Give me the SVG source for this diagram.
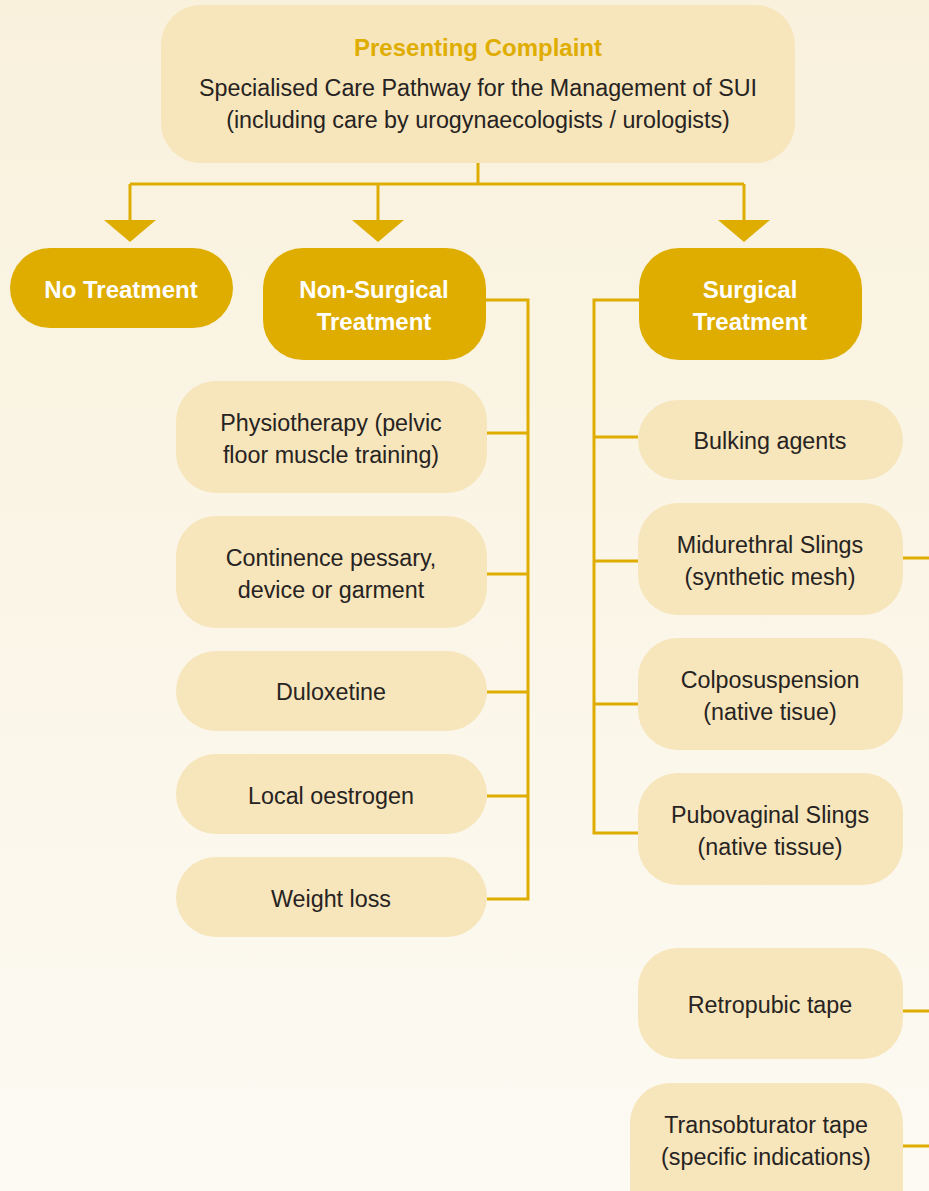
<svg xmlns="http://www.w3.org/2000/svg" width="929" height="1191" viewBox="0 0 929 1191">
  <defs>
    <linearGradient id="bg" x1="0" y1="0" x2="0" y2="1">
      <stop offset="0" stop-color="#f9f1dc"/>
      <stop offset="1" stop-color="#fcfaf3"/>
    </linearGradient>
    <style>
      .light { fill: #f7e5bb; }
      .dark { fill: #dfad00; }
      .t { font-family: "Liberation Sans", Arial, sans-serif; font-size: 23.3px; fill: #262322; text-anchor: middle; }
      .tb { font-family: "Liberation Sans", Arial, sans-serif; font-size: 24px; font-weight: bold; fill: #ffffff; text-anchor: middle; }
      .title { font-family: "Liberation Sans", Arial, sans-serif; font-size: 24px; font-weight: bold; fill: #dfad00; text-anchor: middle; }
      .ln { fill: none; stroke: #dfad00; stroke-width: 3; }
      .arrow { fill: #dfad00; }
    </style>
  </defs>
  <rect x="0" y="0" width="929" height="1191" fill="url(#bg)"/>

  <g id="connectors">
    <path class="ln" d="M478,163 V184 M130,184 H744 M130,184 V221 M378,184 V221 M744,184 V221"/>
    <polygon class="arrow" points="104,220 156,220 130,242"/>
    <polygon class="arrow" points="352,220 404,220 378,242"/>
    <polygon class="arrow" points="718,220 770,220 744,242"/>
    <path class="ln" d="M486,300 H528 V899 H487 M487,433 H528 M487,574 H528 M487,692 H528 M487,796 H528"/>
    <path class="ln" d="M639,300 H594 V833 H638 M594,437 H638 M594,561 H638 M594,704 H638"/>
    <path class="ln" d="M903,558 H929 M903,1011 H929 M903,1146 H929"/>
  </g>

  <g id="presenting-complaint">
    <rect class="light" x="161" y="5" width="634" height="158" rx="40"/>
    <text class="title" x="478" y="56">Presenting Complaint</text>
    <text class="t" x="478" y="96">Specialised Care Pathway for the Management of SUI</text>
    <text class="t" x="478" y="128">(including care by urogynaecologists / urologists)</text>
  </g>

  <g id="no-treatment">
    <rect class="dark" x="10" y="248" width="223" height="80" rx="40"/>
    <text class="tb" x="121" y="298">No Treatment</text>
  </g>

  <g id="non-surgical">
    <rect class="dark" x="263" y="248" width="223" height="112" rx="40"/>
    <text class="tb" x="374" y="298">Non-Surgical</text>
    <text class="tb" x="374" y="330">Treatment</text>
  </g>

  <g id="surgical">
    <rect class="dark" x="639" y="248" width="223" height="112" rx="40"/>
    <text class="tb" x="750" y="298">Surgical</text>
    <text class="tb" x="750" y="330">Treatment</text>
  </g>

  <g id="physiotherapy">
    <rect class="light" x="176" y="381" width="311" height="112" rx="40"/>
    <text class="t" x="331" y="431">Physiotherapy (pelvic</text>
    <text class="t" x="331" y="463">floor muscle training)</text>
  </g>

  <g id="continence">
    <rect class="light" x="176" y="516" width="311" height="112" rx="40"/>
    <text class="t" x="331" y="566">Continence pessary,</text>
    <text class="t" x="331" y="598">device or garment</text>
  </g>

  <g id="duloxetine">
    <rect class="light" x="176" y="651" width="311" height="80" rx="40"/>
    <text class="t" x="331" y="700">Duloxetine</text>
  </g>

  <g id="local-oestrogen">
    <rect class="light" x="176" y="754" width="311" height="80" rx="40"/>
    <text class="t" x="331" y="804">Local oestrogen</text>
  </g>

  <g id="weight-loss">
    <rect class="light" x="176" y="857" width="311" height="80" rx="40"/>
    <text class="t" x="331" y="907">Weight loss</text>
  </g>

  <g id="bulking-agents">
    <rect class="light" x="638" y="400" width="265" height="80" rx="40"/>
    <text class="t" x="770" y="449">Bulking agents</text>
  </g>

  <g id="midurethral">
    <rect class="light" x="638" y="503" width="265" height="112" rx="40"/>
    <text class="t" x="770" y="553">Midurethral Slings</text>
    <text class="t" x="770" y="585">(synthetic mesh)</text>
  </g>

  <g id="colposuspension">
    <rect class="light" x="638" y="638" width="265" height="112" rx="40"/>
    <text class="t" x="770" y="688">Colposuspension</text>
    <text class="t" x="770" y="720">(native tisue)</text>
  </g>

  <g id="pubovaginal">
    <rect class="light" x="638" y="773" width="265" height="112" rx="40"/>
    <text class="t" x="770" y="823">Pubovaginal Slings</text>
    <text class="t" x="770" y="855">(native tissue)</text>
  </g>

  <g id="retropubic">
    <rect class="light" x="638" y="948" width="265" height="111" rx="40"/>
    <text class="t" x="770" y="1013">Retropubic tape</text>
  </g>

  <g id="transobturator">
    <rect class="light" x="630" y="1083" width="273" height="150" rx="40"/>
    <text class="t" x="766" y="1133">Transobturator tape</text>
    <text class="t" x="766" y="1165">(specific indications)</text>
  </g>
</svg>
